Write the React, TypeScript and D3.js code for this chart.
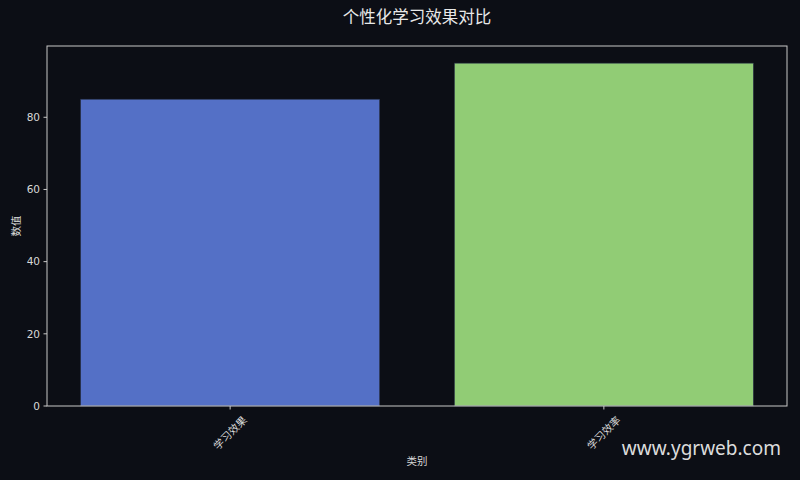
import React from "react"
import { scaleLinear } from "d3"

const categories = ["学习效果", "学习效率"]
const values = [85, 95]
const colors = ["#5470c6", "#91cc75"]
const yTicks = [0, 20, 40, 60, 80]

const W = 800
const H = 480
const margin = { top: 46, right: 13, bottom: 74, left: 47 }
const font = "'DejaVu Sans', 'Noto Sans CJK SC', sans-serif"

export default function App() {
  const innerW = W - margin.left - margin.right
  const innerH = H - margin.top - margin.bottom
  const barW = 0.8
  const span = categories.length - 1 + barW
  const x = scaleLinear()
    .domain([-barW / 2 - 0.05 * span, categories.length - 1 + barW / 2 + 0.05 * span])
    .range([0, innerW])
  const y = scaleLinear().domain([0, Math.max(...values) * 1.05]).range([innerH, 0])
  const bw = x(barW) - x(0)

  return (
    <div style={{ position: "fixed", left: 0, top: 0, width: W, height: H }}>
      <svg width={W} height={H} style={{ display: "block", background: "#0c0e15" }}>
        <rect width={W} height={H} fill="#0c0e15" />
        <text x={margin.left + innerW / 2} y={23} textAnchor="middle" fill="#e8e8e8" fontSize={16.5} fontFamily={font}>
          个性化学习效果对比
        </text>
        <g transform={`translate(${margin.left},${margin.top})`}>
          {categories.map((c, i) => (
            <rect
              key={c}
              x={x(i) - bw / 2}
              y={y(values[i])}
              width={bw}
              height={innerH - y(values[i])}
              fill={colors[i]}
              stroke="#2a3348"
              strokeWidth={0.6}
            />
          ))}
          <rect x={0} y={0} width={innerW} height={innerH} fill="none" stroke="#c8c8c8" strokeWidth={1} />
          {yTicks.map((t) => (
            <g key={t} transform={`translate(0,${y(t)})`}>
              <line x1={-3.5} x2={0} stroke="#c8c8c8" />
              <text x={-7} dy="0.35em" textAnchor="end" fill="#d8d8d8" fontSize={10.5} fontFamily={font}>
                {t}
              </text>
            </g>
          ))}
          {categories.map((c, i) => (
            <g key={c} transform={`translate(${x(i)},${innerH})`}>
              <line y1={0} y2={3.5} stroke="#c8c8c8" />
              <text
                transform="translate(0,27) rotate(-45)"
                textAnchor="middle"
                dy="0.35em"
                fill="#d8d8d8"
                fontSize={10.5}
                fontFamily={font}
              >
                {c}
              </text>
            </g>
          ))}
          <text x={innerW / 2} y={innerH + 59} textAnchor="middle" fill="#d8d8d8" fontSize={10.5} fontFamily={font}>
            类别
          </text>
          <text
            transform={`translate(${-27},${innerH / 2}) rotate(-90)`}
            textAnchor="middle"
            fill="#d8d8d8"
            fontSize={10.5}
            fontFamily={font}
          >
            数值
          </text>
        </g>
        <text x={781} y={455} textAnchor="end" fill="#dcdcdc" fontSize={19} fontFamily="'Noto Sans', sans-serif">
          www.ygrweb.com
        </text>
      </svg>
    </div>
  )
}
